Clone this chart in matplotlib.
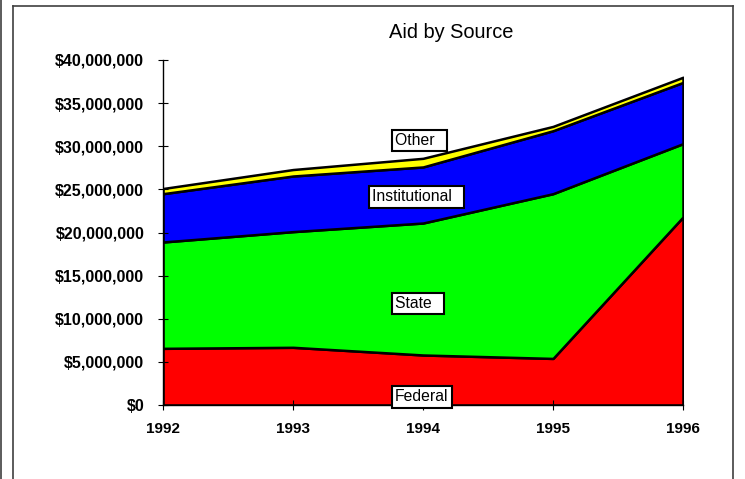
import matplotlib
matplotlib.use("Agg")
import matplotlib.pyplot as plt
from matplotlib.ticker import FuncFormatter
from matplotlib.lines import Line2D

plt.rcParams['font.family'] = ['Liberation Sans', 'DejaVu Sans']

years = [1992, 1993, 1994, 1995, 1996]
federal = [6.57e6, 6.69e6, 5.8e6, 5.4e6, 21.8e6]
state = [12.33e6, 13.41e6, 15.3e6, 19.1e6, 8.5e6]
institutional = [5.6e6, 6.45e6, 6.5e6, 7.3e6, 7.1e6]
other = [0.6e6, 0.75e6, 1.0e6, 0.5e6, 0.6e6]
series_names = ["Federal", "State", "Institutional", "Other"]
colors = ["#FF0000", "#00FF00", "#0000FF", "#FFFF00"]
y_ticks = list(range(0, 40000001, 5000000))

W, H = 745, 479
fig = plt.figure(figsize=(W / 100, H / 100), dpi=100)
ax = fig.add_axes([163 / W, 1 - 405 / H, (683 - 163) / W, (405 - 60) / H])

ax.stackplot(years, federal, state, institutional, other, colors=colors,
             edgecolor="black", linewidth=1.8)

ax.set_xlim(1992, 1996)
ax.set_ylim(0, 40000000)
ax.set_xticks(years)
ax.set_yticks(y_ticks)
ax.yaxis.set_major_formatter(FuncFormatter(lambda v, p: "${:,.0f}".format(v)))
for s in ["top", "right"]:
    ax.spines[s].set_visible(False)
for s in ["left", "bottom"]:
    ax.spines[s].set_linewidth(1.0)
    ax.spines[s].set_color("black")
ax.tick_params(axis="y", direction="inout", length=7, width=0.8, pad=10,
               labelsize=11.5)
ax.tick_params(axis="x", direction="inout", length=7, width=0.8, pad=9,
               labelsize=11)
for lab in ax.get_xticklabels() + ax.get_yticklabels():
    lab.set_fontweight("bold")

fig.text(451 / W, 1 - 33 / H, "Aid by Source", ha="center", va="center",
         fontsize=14.4)

box = dict(boxstyle="square,pad=0.2", facecolor="white", edgecolor="black",
           linewidth=1.5)
label_specs = [("Other  ", 1993.785, 30.67e6),
               ("Institutional  ", 1993.608, 24.12e6),
               ("State  ", 1993.785, 11.73e6),
               ("Federal", 1993.785, 0.93e6)]
for txt, x, y in label_specs:
    ax.text(x, y, txt, ha="left", va="center", fontsize=11.3, bbox=box,
            zorder=10, clip_on=False)

# outer frame
frame_color = "#404040"
fig.add_artist(Line2D([13 / W, 13 / W], [0, 1 - 6 / H], color=frame_color,
                      linewidth=1.2, transform=fig.transFigure))
fig.add_artist(Line2D([13 / W, 733 / W], [1 - 6 / H, 1 - 6 / H],
                      color=frame_color, linewidth=1.2,
                      transform=fig.transFigure))
fig.add_artist(Line2D([733 / W, 733 / W], [0, 1 - 6 / H], color=frame_color,
                      linewidth=1.2, transform=fig.transFigure))
fig.add_artist(Line2D([1 / W, 1 / W], [0, 1], color=frame_color,
                      linewidth=1.2, transform=fig.transFigure))

fig.savefig("out.png", dpi=100)
